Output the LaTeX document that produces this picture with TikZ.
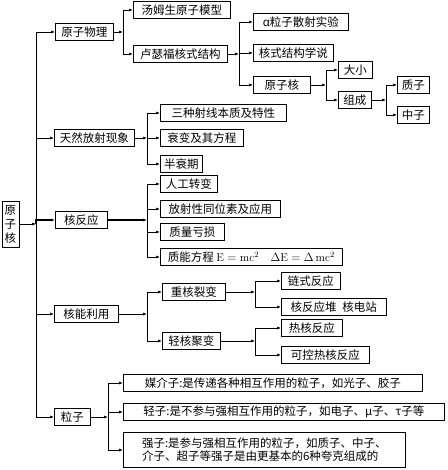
\documentclass[tikz,border=0pt]{standalone}
\usepackage{fontspec}
\newfontfamily\cjk{Noto Sans CJK SC}
\usetikzlibrary{arrows.meta}

\tikzset{
  box/.style={draw, line width=0.7pt, anchor=west, inner xsep=2pt, inner ysep=1pt,
    minimum height=17pt, font=\cjk\fontsize{11.5}{13}\selectfont},
  link/.style={line width=0.7pt, -{Latex[length=4pt,width=3pt]}},
}

\begin{document}
\begin{tikzpicture}[x=1pt,y=-1pt]
    \useasboundingbox (0,0) rectangle (447,470);
    % root
    \node[draw, line width=0.7pt, inner sep=1pt, minimum width=17pt, minimum height=46pt,
      align=center, font=\cjk\fontsize{11.5}{14}\selectfont] (root) at (10.5,224) {原\\子\\核};
    \coordinate (bT) at (36,224);
    % first level
    \node[box, minimum width=58pt] (yzwl) at (55,32) {原子物理};
    \node[box, minimum width=80pt] (trfs) at (54,138) {天然放射现象};
    \node[box, minimum width=52pt] (hfy) at (55,220) {核反应};
    \node[box, minimum width=64pt] (hnly) at (54,314) {核能利用};
    \node[box, minimum width=36pt] (lz) at (54,417) {粒子};
    \draw[link] (root) -- (bT);
    \draw[link] (bT) |- (yzwl);
    \draw[link] (bT) |- (trfs);
    \draw[link, line width=1.4pt] (bT) |- (hfy);
    \draw[link] (bT) |- (hnly);
    \draw[link] (bT) |- (lz);
    % atomic physics
    \coordinate (b1) at (123,32);
    \coordinate (b2) at (239,54);
    \coordinate (b3) at (326,85);
    \coordinate (b4) at (386,100);
    \node[box, minimum width=97pt] (tms) at (133,10) {汤姆生原子模型};
    \node[box, minimum width=94pt] (lsf) at (133,54) {卢瑟福核式结构};
    \node[box, minimum width=95pt] (alpha) at (253,22) {α粒子散射实验};
    \node[box, minimum width=80pt] (hsjg) at (253,53) {核式结构学说};
    \node[box, minimum width=57pt] (yzh) at (253,85) {原子核};
    \node[box, minimum width=34pt] (dx) at (338,70) {大小};
    \node[box, minimum width=33pt] (zc) at (338,100) {组成};
    \node[box, minimum width=32pt] (zhiz) at (397,85) {质子};
    \node[box, minimum width=32pt] (zhongz) at (397,115) {中子};
    \draw[link] (yzwl) -- (b1);
    \draw[link] (b1) |- (tms);
    \draw[link] (b1) |- (lsf);
    \draw[link] (lsf) -- (b2);
    \draw[link] (b2) |- (alpha);
    \draw[link] (b2) |- (hsjg);
    \draw[link] (b2) |- (yzh);
    \draw[link] (yzh) -- (b3);
    \draw[link] (b3) |- (dx);
    \draw[link] (b3) |- (zc);
    \draw[link] (zc) -- (b4);
    \draw[link] (b4) |- (zhiz);
    \draw[link] (b4) |- (zhongz);
    % natural radioactivity
    \coordinate (b5) at (147,138);
    \node[box, minimum width=126pt] (szsx) at (160,113) {三种射线本质及特性};
    \node[box, minimum width=83pt] (sb) at (160,138) {衰变及其方程};
    \node[box, minimum width=42pt] (sbq) at (160,164) {半衰期};
    \draw[link] (trfs) -- (b5);
    \draw[link] (b5) |- (szsx);
    \draw[link] (b5) |- (sb);
    \draw[link] (b5) |- (sbq);
    % nuclear reaction
    \coordinate (b6) at (147,220);
    \node[box, minimum width=57pt] (rgzb) at (160,184) {人工转变};
    \node[box, minimum width=120pt] (fsx) at (160,209) {放射性同位素及应用};
    \node[box, minimum width=64pt] (zlks) at (160,232) {质量亏损};
    \node[box, minimum width=182pt] (zncf) at (160,257)
      {质能方程 $\mathrm{E=mc^2}$\quad $\Delta\mathrm{E}=\Delta\,\mathrm{mc^2}$};
    \draw[link, line width=1.4pt] (hfy) -- (b6);
    \draw[link] (b6) |- (rgzb);
    \draw[link] (b6) |- (fsx);
    \draw[link] (b6) |- (zlks);
    \draw[link] (b6) |- (zncf);
    % nuclear energy
    \coordinate (b7) at (147,314);
    \coordinate (b8) at (255,292);
    \coordinate (b9) at (255,341);
    \node[box, minimum width=63pt] (zhlb) at (162,292) {重核裂变};
    \node[box, minimum width=58pt] (qhjb) at (162,341) {轻核聚变};
    \node[box, minimum width=59pt] (lsfy) at (281,281) {链式反应};
    \node[box, minimum width=105pt] (hfyd) at (281,307) {核反应堆\enspace 核电站};
    \node[box, minimum width=61pt] (rhfy) at (281,328) {热核反应};
    \node[box, minimum width=88pt] (kkr) at (281,355) {可控热核反应};
    \draw[link] (hnly) -- (b7);
    \draw[link] (b7) |- (zhlb);
    \draw[link] (b7) |- (qhjb);
    \draw[link] (zhlb) -- (b8);
    \draw[link] (b8) |- (lsfy);
    \draw[link] (b8) |- (hfyd);
    \draw[link] (qhjb) -- (b9);
    \draw[link] (b9) |- (rhfy);
    \draw[link] (b9) |- (kkr);
    % particles
    \coordinate (b10) at (108,417);
    \node[box, minimum width=299pt] (mjz) at (123,383) {媒介子:是传递各种相互作用的粒子，如光子、胶子};
    \node[box, minimum width=321pt] (qz) at (123,412) {轻子:是不参与强相互作用的粒子，如电子、μ子、τ子等};
    \node[box, minimum width=282pt, minimum height=35pt, align=left] (qiangz) at (123,450)
      {强子:是参与强相互作用的粒子，如质子、中子、\\介子、超子等强子是由更基本的6种夸克组成的};
    \draw[link] (lz) -- (b10);
    \draw[link] (b10) |- (mjz);
    \draw[link] (b10) |- (qz);
    \draw[link] (b10) |- (qiangz);
\end{tikzpicture}
\end{document}
